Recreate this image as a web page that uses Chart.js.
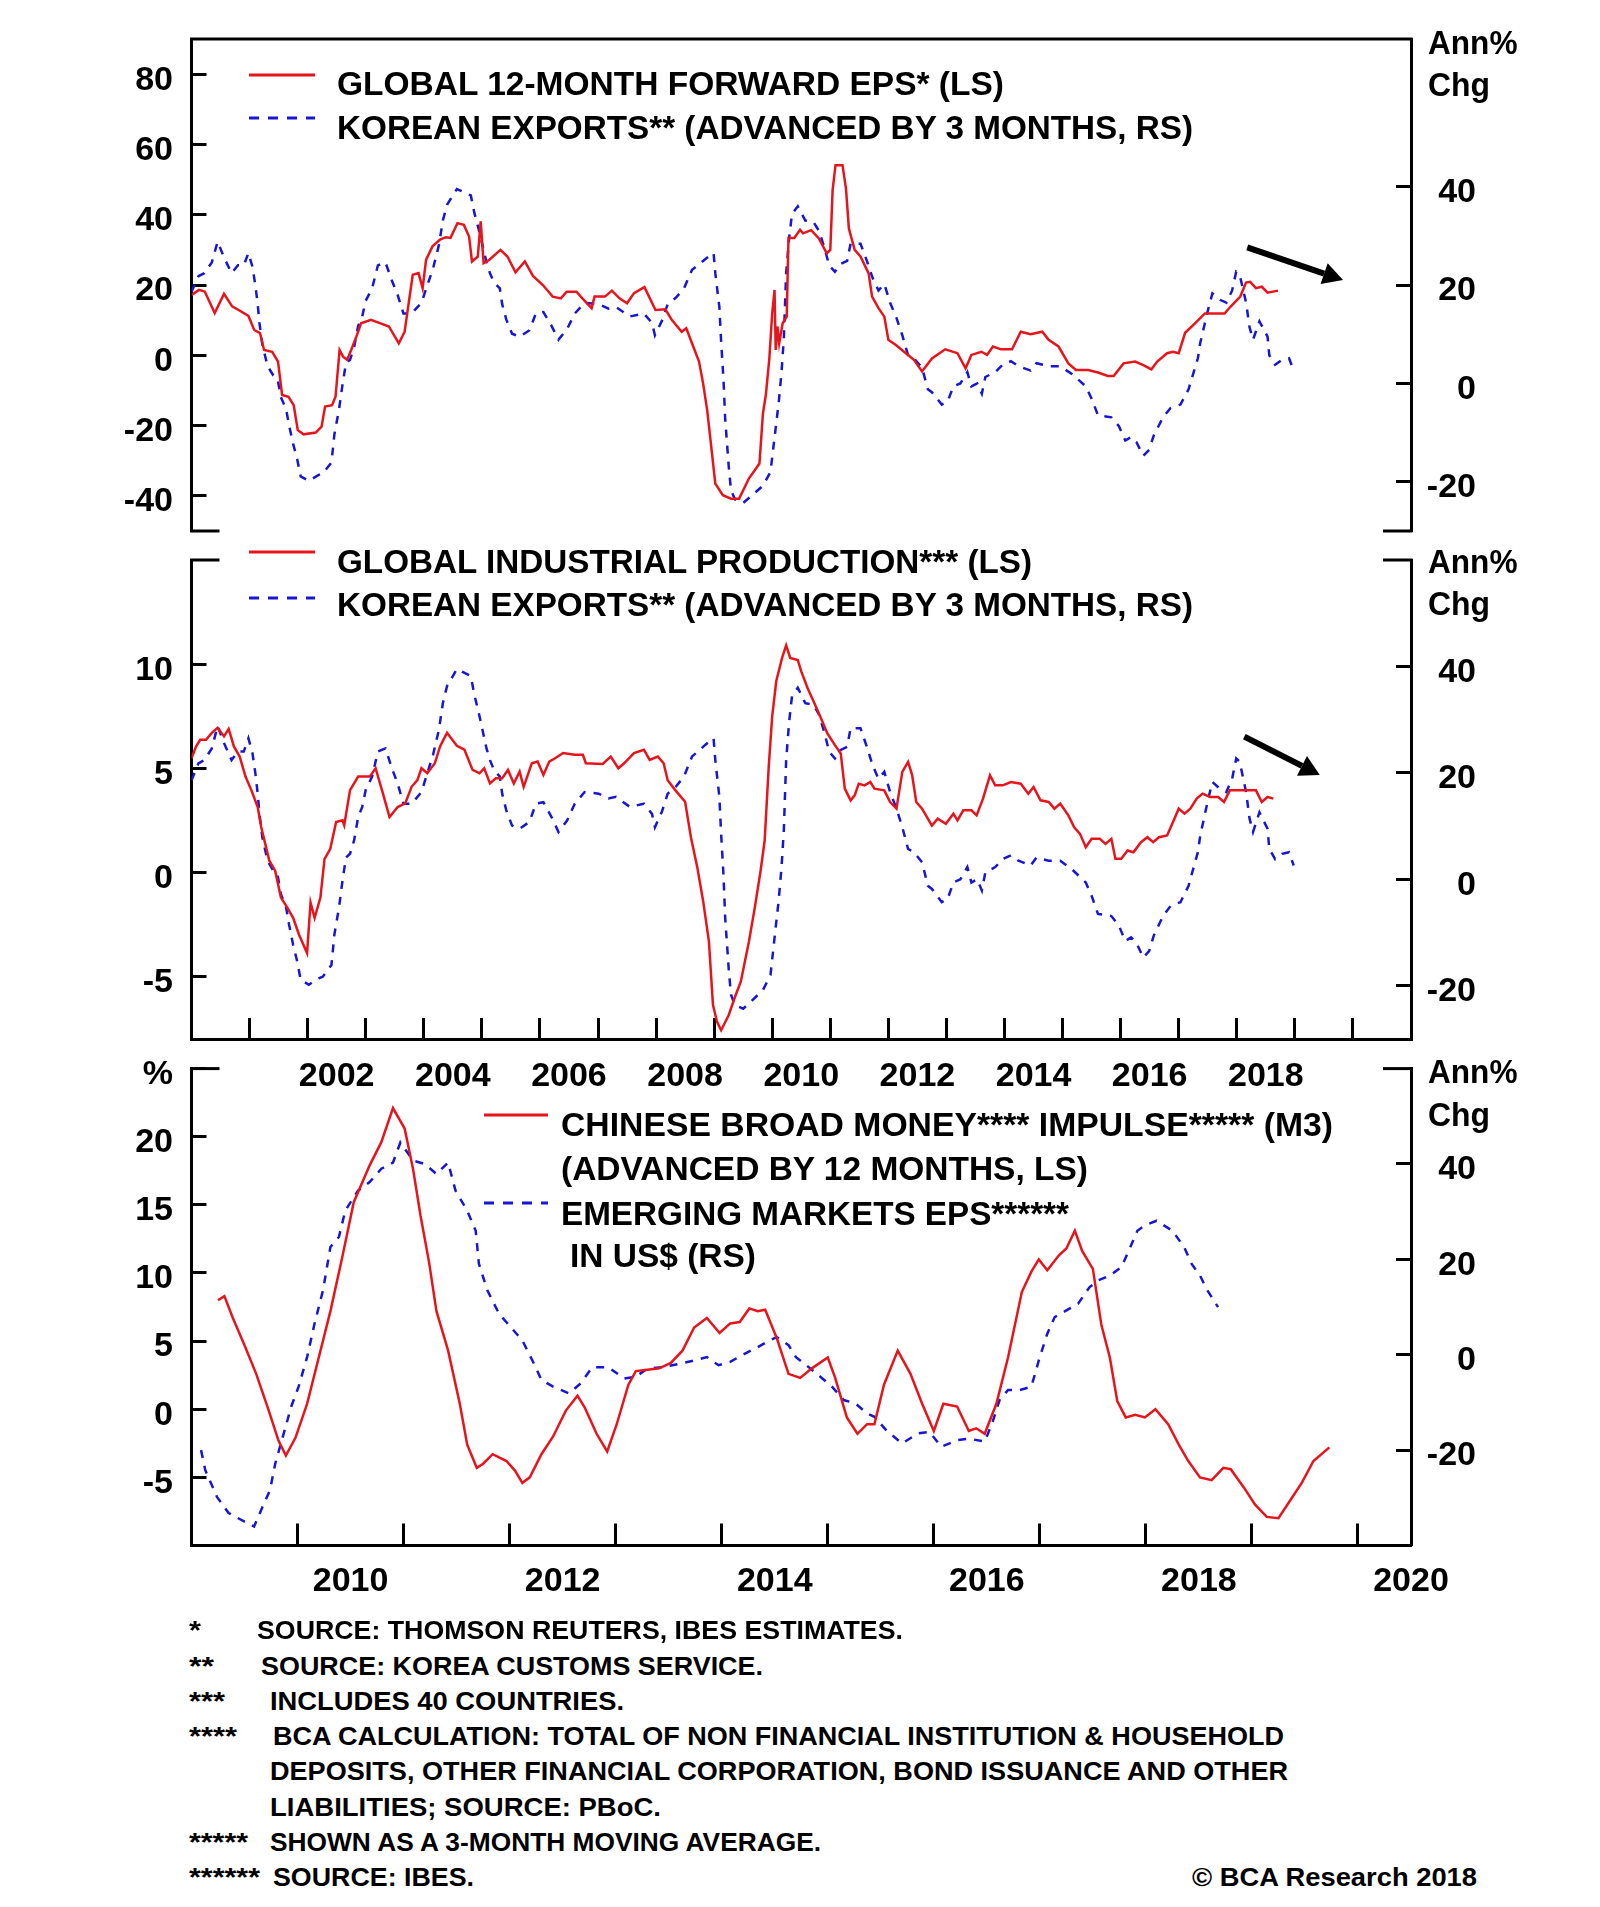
<!DOCTYPE html>
<html><head><meta charset="utf-8">
<script src="https://cdn.jsdelivr.net/npm/chart.js@4.4.1/dist/chart.umd.min.js"></script>
<style>
html,body{margin:0;padding:0;background:#fff;}
#page{position:relative;width:1600px;height:1907px;overflow:hidden;background:#fff;}
#page canvas{position:absolute;left:0;}
.t{position:absolute;white-space:pre;font-family:'Liberation Sans Narrow','Liberation Sans','Arial Narrow',Arial,sans-serif;font-weight:bold;color:#000;line-height:1;transform-origin:0 50%;}
.s{position:absolute;}
</style></head>
<body><div id="page">
<canvas id="c1" width="1600" height="570" style="top:0px;width:1600px;height:570px"></canvas>
<canvas id="c2" width="1600" height="590" style="top:520px;width:1600px;height:590px"></canvas>
<canvas id="c3" width="1600" height="590" style="top:1028px;width:1600px;height:590px"></canvas>
</div>
<script>
// ---------------- DATA (decimal year, value) ----------------
const globalEps = [[2000.00,17.2],[2000.13,18.6],[2000.23,18.1],[2000.40,12.0],[2000.56,17.5],[2000.70,13.9],[2000.84,12.6],[2000.98,11.2],[2001.08,7.2],[2001.18,6.3],[2001.25,1.5],[2001.39,1.0],[2001.49,-1.8],[2001.56,-11.3],[2001.67,-11.8],[2001.76,-14.2],[2001.83,-21.3],[2001.93,-22.5],[2002.14,-22.0],[2002.24,-20.3],[2002.30,-14.6],[2002.42,-14.2],[2002.48,-11.8],[2002.55,1.5],[2002.61,-0.4],[2002.68,-1.3],[2002.75,1.5],[2002.85,5.8],[2002.92,9.1],[2003.09,10.1],[2003.22,9.3],[2003.40,8.2],[2003.57,3.4],[2003.67,6.7],[2003.81,22.9],[2003.91,23.4],[2003.98,19.1],[2004.04,27.2],[2004.15,31.0],[2004.28,32.9],[2004.38,33.6],[2004.46,33.4],[2004.58,37.6],[2004.69,37.1],[2004.78,33.8],[2004.83,26.7],[2004.93,28.1],[2004.98,38.1],[2005.03,26.2],[2005.13,27.2],[2005.32,30.0],[2005.44,28.1],[2005.58,23.6],[2005.74,26.7],[2005.88,22.6],[2006.05,20.0],[2006.22,16.7],[2006.36,16.2],[2006.46,18.1],[2006.63,18.1],[2006.73,16.2],[2006.89,13.4],[2006.94,16.7],[2007.12,16.7],[2007.24,18.4],[2007.37,16.2],[2007.50,14.8],[2007.62,17.7],[2007.80,19.4],[2007.99,12.9],[2008.16,13.1],[2008.27,10.1],[2008.44,6.7],[2008.52,7.7],[2008.64,2.5],[2008.74,-1.8],[2008.81,-8.0],[2008.88,-15.6],[2008.95,-26.0],[2009.02,-36.5],[2009.15,-39.8],[2009.29,-40.8],[2009.43,-40.8],[2009.53,-37.4],[2009.60,-35.0],[2009.70,-32.7],[2009.78,-30.8],[2009.84,-16.6],[2009.89,-11.3],[2009.95,-1.0],[2010.00,12.0],[2010.04,18.6],[2010.06,1.5],[2010.09,8.2],[2010.12,3.4],[2010.18,9.1],[2010.25,11.0],[2010.28,33.4],[2010.38,33.4],[2010.48,35.7],[2010.53,34.7],[2010.67,35.6],[2010.80,33.3],[2010.94,29.0],[2011.00,30.0],[2011.04,47.0],[2011.09,54.1],[2011.21,54.1],[2011.27,47.5],[2011.32,36.1],[2011.42,30.0],[2011.52,28.1],[2011.66,23.3],[2011.72,16.7],[2011.83,13.4],[2011.93,11.0],[2012.00,4.4],[2012.13,2.9],[2012.27,1.0],[2012.44,-1.3],[2012.58,-4.6],[2012.75,-0.9],[2012.98,1.7],[2013.19,0.6],[2013.33,-3.7],[2013.43,0.1],[2013.60,1.0],[2013.70,0.1],[2013.80,2.5],[2013.94,1.7],[2014.13,1.7],[2014.28,6.7],[2014.45,6.0],[2014.65,6.7],[2014.76,4.4],[2014.93,2.5],[2015.10,-2.3],[2015.23,-4.2],[2015.44,-4.2],[2015.61,-4.9],[2015.78,-5.9],[2015.88,-5.9],[2016.05,-2.3],[2016.25,-1.8],[2016.39,-2.8],[2016.53,-4.0],[2016.63,-1.8],[2016.80,0.6],[2016.90,1.0],[2017.00,0.6],[2017.11,6.4],[2017.28,9.1],[2017.45,11.9],[2017.62,11.9],[2017.79,11.9],[2017.89,13.8],[2018.06,16.7],[2018.16,20.7],[2018.23,20.9],[2018.33,19.1],[2018.43,19.5],[2018.53,17.8],[2018.71,18.4]];

const koreanExports = [[2000.00,18.6],[2000.12,21.8],[2000.22,22.4],[2000.35,24.6],[2000.45,28.8],[2000.56,25.6],[2000.69,22.4],[2000.80,24.0],[2000.90,24.0],[2000.98,26.5],[2001.05,23.7],[2001.10,19.9],[2001.14,16.1],[2001.17,12.3],[2001.22,7.9],[2001.31,3.5],[2001.41,1.6],[2001.48,1.0],[2001.54,-2.8],[2001.63,-5.3],[2001.68,-8.5],[2001.75,-12.3],[2001.82,-15.4],[2001.88,-18.9],[2002.02,-19.8],[2002.19,-18.6],[2002.26,-18.3],[2002.41,-16.1],[2002.46,-10.4],[2002.54,-5.3],[2002.60,-0.3],[2002.66,4.1],[2002.73,4.8],[2002.80,7.3],[2002.87,11.7],[2002.94,13.6],[2003.00,16.8],[2003.11,19.3],[2003.21,24.0],[2003.34,24.6],[2003.45,20.9],[2003.55,18.0],[2003.65,14.2],[2003.79,14.2],[2003.96,16.4],[2004.06,19.9],[2004.16,23.4],[2004.26,28.1],[2004.33,33.2],[2004.40,36.3],[2004.57,39.5],[2004.81,38.2],[2004.87,34.7],[2004.94,31.6],[2005.01,28.1],[2005.08,24.6],[2005.14,22.4],[2005.21,20.5],[2005.31,19.3],[2005.35,16.1],[2005.42,13.0],[2005.52,10.1],[2005.65,9.5],[2005.82,10.8],[2005.93,14.2],[2006.06,14.5],[2006.20,11.7],[2006.32,8.9],[2006.47,11.1],[2006.60,14.2],[2006.77,16.4],[2007.01,16.1],[2007.18,15.2],[2007.31,15.5],[2007.55,13.6],[2007.79,14.2],[2007.93,12.3],[2007.98,9.8],[2008.10,12.7],[2008.20,16.1],[2008.34,17.4],[2008.48,19.3],[2008.62,23.1],[2008.72,24.0],[2008.85,25.3],[2008.99,26.5],[2009.02,22.4],[2009.09,15.5],[2009.12,8.6],[2009.16,1.0],[2009.19,-7.2],[2009.25,-16.7],[2009.29,-21.7],[2009.36,-23.6],[2009.50,-24.3],[2009.63,-23.0],[2009.84,-20.8],[2009.97,-18.0],[2010.04,-11.0],[2010.11,-4.1],[2010.16,2.2],[2010.20,9.2],[2010.24,22.4],[2010.29,29.4],[2010.34,34.4],[2010.44,36.0],[2010.57,33.1],[2010.71,32.8],[2010.81,30.9],[2010.91,27.1],[2010.98,24.0],[2011.08,22.7],[2011.18,24.3],[2011.29,24.9],[2011.35,28.4],[2011.52,28.4],[2011.63,24.9],[2011.73,21.4],[2011.83,18.9],[2011.93,20.2],[2012.03,16.4],[2012.14,13.3],[2012.24,9.8],[2012.34,5.7],[2012.44,5.1],[2012.58,3.2],[2012.68,-1.2],[2012.75,-1.8],[2012.92,-4.3],[2013.02,-3.7],[2013.12,-0.6],[2013.24,0.0],[2013.36,2.3],[2013.43,-0.6],[2013.53,0.0],[2013.61,-2.1],[2013.67,1.3],[2013.84,2.3],[2013.97,3.8],[2014.11,4.5],[2014.24,3.5],[2014.45,2.6],[2014.55,4.1],[2014.76,3.5],[2014.96,3.5],[2015.16,1.9],[2015.40,-0.6],[2015.50,-3.1],[2015.61,-6.5],[2015.84,-6.9],[2015.97,-8.7],[2016.08,-11.6],[2016.18,-10.9],[2016.27,-11.9],[2016.39,-14.7],[2016.49,-13.5],[2016.57,-10.6],[2016.73,-6.9],[2016.86,-5.0],[2017.03,-4.3],[2017.17,-1.2],[2017.24,1.6],[2017.33,5.1],[2017.37,8.2],[2017.44,11.7],[2017.51,15.2],[2017.58,18.3],[2017.71,17.0],[2017.82,16.4],[2017.92,18.9],[2017.99,22.7],[2018.05,22.1],[2018.16,16.4],[2018.22,11.4],[2018.28,8.9],[2018.39,12.6],[2018.53,9.5],[2018.56,5.7],[2018.66,3.8],[2018.78,4.8],[2018.90,5.1],[2018.98,2.6]];

const globalIP = [[2000.00,5.48],[2000.08,6.05],[2000.15,6.37],[2000.25,6.37],[2000.35,6.7],[2000.45,6.94],[2000.56,6.53],[2000.64,6.89],[2000.73,6.05],[2000.83,5.56],[2000.93,4.6],[2001.03,3.95],[2001.14,3.14],[2001.20,2.18],[2001.27,1.37],[2001.34,0.56],[2001.44,0.08],[2001.54,-1.21],[2001.65,-1.69],[2001.75,-2.18],[2001.85,-2.98],[2001.99,-3.87],[2002.05,-1.45],[2002.12,-2.18],[2002.22,-1.21],[2002.29,0.64],[2002.39,1.13],[2002.49,2.42],[2002.60,2.5],[2002.63,2.26],[2002.73,3.95],[2002.87,4.6],[2003.07,4.6],[2003.17,5.0],[2003.28,3.95],[2003.41,2.66],[2003.55,3.14],[2003.68,3.31],[2003.79,4.11],[2003.89,4.43],[2003.96,5.0],[2004.06,4.76],[2004.19,5.24],[2004.28,6.05],[2004.40,6.7],[2004.57,6.08],[2004.70,5.89],[2004.84,4.92],[2004.96,4.76],[2005.04,5.0],[2005.14,4.27],[2005.24,4.52],[2005.35,4.52],[2005.45,4.92],[2005.55,4.27],[2005.65,4.84],[2005.72,4.11],[2005.86,5.24],[2005.96,5.32],[2006.06,4.68],[2006.16,5.32],[2006.26,5.48],[2006.40,5.73],[2006.60,5.65],[2006.74,5.65],[2006.79,5.24],[2007.08,5.21],[2007.22,5.56],[2007.35,5.0],[2007.45,5.24],[2007.62,5.73],[2007.79,5.89],[2007.89,5.4],[2008.03,5.56],[2008.13,5.24],[2008.20,4.43],[2008.33,3.95],[2008.50,3.39],[2008.60,1.69],[2008.71,0.24],[2008.81,-1.37],[2008.91,-3.31],[2008.98,-6.37],[2009.05,-7.18],[2009.12,-7.58],[2009.25,-6.86],[2009.36,-5.97],[2009.46,-5.24],[2009.60,-3.31],[2009.70,-1.69],[2009.80,0.08],[2009.87,1.53],[2009.94,5.08],[2010.00,7.5],[2010.07,9.19],[2010.17,10.3],[2010.24,10.9],[2010.31,10.3],[2010.44,10.2],[2010.50,9.65],[2010.61,8.84],[2010.74,8.04],[2010.84,7.4],[2010.95,6.67],[2011.08,6.11],[2011.18,5.71],[2011.25,4.02],[2011.35,3.46],[2011.42,3.7],[2011.49,4.26],[2011.59,4.18],[2011.69,4.34],[2011.76,4.02],[2011.93,3.94],[2012.03,3.38],[2012.14,3.06],[2012.24,4.83],[2012.34,5.31],[2012.41,4.66],[2012.48,3.38],[2012.58,3.06],[2012.68,2.58],[2012.75,2.25],[2012.85,2.58],[2012.99,2.33],[2013.12,2.82],[2013.19,2.5],[2013.29,2.98],[2013.43,2.98],[2013.52,2.74],[2013.63,3.54],[2013.75,4.66],[2013.84,4.18],[2013.97,4.18],[2014.11,4.34],[2014.28,4.26],[2014.41,3.78],[2014.50,4.1],[2014.62,3.46],[2014.76,3.38],[2014.86,3.06],[2014.96,3.3],[2015.10,2.74],[2015.20,2.17],[2015.30,1.85],[2015.40,1.21],[2015.50,1.61],[2015.64,1.61],[2015.74,1.37],[2015.84,1.61],[2015.91,0.65],[2016.01,0.65],[2016.12,1.05],[2016.22,0.97],[2016.35,1.45],[2016.46,1.69],[2016.56,1.45],[2016.66,1.69],[2016.80,1.77],[2016.90,2.41],[2017.00,3.06],[2017.10,2.82],[2017.20,3.06],[2017.31,3.54],[2017.41,3.78],[2017.54,3.62],[2017.68,3.62],[2017.78,3.38],[2017.88,3.94],[2018.05,3.94],[2018.16,3.94],[2018.33,3.94],[2018.43,3.38],[2018.53,3.62],[2018.63,3.54]];

const chinaM3Impulse = [[2009.25,8.0],[2009.31,8.3],[2009.39,6.7],[2009.50,4.7],[2009.61,2.6],[2009.72,0.1],[2009.82,-2.3],[2009.89,-3.4],[2009.98,-2.1],[2010.09,0.4],[2010.20,3.8],[2010.31,7.2],[2010.42,11.1],[2010.53,15.2],[2010.68,17.9],[2010.79,19.6],[2010.90,22.1],[2011.01,20.6],[2011.09,17.6],[2011.16,14.2],[2011.24,10.8],[2011.31,7.2],[2011.42,4.3],[2011.53,0.4],[2011.60,-2.6],[2011.69,-4.3],[2011.75,-4.0],[2011.84,-3.3],[2011.97,-3.8],[2012.05,-4.5],[2012.12,-5.4],[2012.19,-5.0],[2012.30,-3.3],[2012.41,-2.0],[2012.53,-0.1],[2012.64,1.0],[2012.71,0.1],[2012.82,-1.8],[2012.92,-3.1],[2013.01,-1.1],[2013.12,1.8],[2013.19,2.8],[2013.30,2.9],[2013.41,3.0],[2013.52,3.4],[2013.63,4.3],[2013.74,6.0],[2013.86,6.7],[2013.98,5.6],[2014.08,6.3],[2014.17,6.4],[2014.26,7.4],[2014.34,7.2],[2014.41,7.3],[2014.52,5.2],[2014.63,2.6],[2014.74,2.3],[2014.85,3.0],[2015.00,3.8],[2015.07,2.3],[2015.18,-0.6],[2015.28,-1.8],[2015.37,-1.1],[2015.44,-1.1],[2015.53,1.8],[2015.66,4.3],[2015.78,2.6],[2015.89,0.4],[2016.00,-1.6],[2016.09,0.4],[2016.22,0.2],[2016.33,-1.6],[2016.40,-1.4],[2016.48,-1.8],[2016.59,0.4],[2016.70,3.8],[2016.83,8.6],[2016.92,10.1],[2016.99,11.0],[2017.07,10.2],[2017.18,11.3],[2017.25,11.8],[2017.33,13.1],[2017.40,11.6],[2017.50,10.3],[2017.58,6.2],[2017.66,3.8],[2017.73,0.6],[2017.81,-0.6],[2017.90,-0.4],[2017.99,-0.6],[2018.09,0.0],[2018.21,-1.1],[2018.31,-2.6],[2018.40,-3.8],[2018.51,-5.0],[2018.62,-5.2],[2018.73,-4.3],[2018.80,-4.4],[2018.92,-5.7],[2019.03,-7.0],[2019.14,-7.9],[2019.25,-8.0],[2019.36,-6.7],[2019.47,-5.4],[2019.58,-3.8],[2019.73,-2.8]];

const emEps = [[2009.09,-20.0],[2009.13,-24.2],[2009.24,-29.8],[2009.35,-33.2],[2009.50,-35.0],[2009.59,-36.0],[2009.67,-31.9],[2009.74,-28.4],[2009.79,-22.8],[2009.87,-16.5],[2009.94,-10.9],[2010.01,-6.7],[2010.09,-0.5],[2010.16,6.5],[2010.24,13.5],[2010.31,22.6],[2010.39,24.7],[2010.45,30.2],[2010.57,34.4],[2010.68,36.2],[2010.79,39.0],[2010.90,40.3],[2010.97,44.5],[2011.09,40.7],[2011.20,40.0],[2011.31,37.9],[2011.42,40.3],[2011.49,34.4],[2011.60,30.2],[2011.68,26.0],[2011.71,19.1],[2011.79,13.5],[2011.90,8.6],[2012.01,5.8],[2012.12,3.0],[2012.23,-1.9],[2012.30,-5.3],[2012.41,-6.7],[2012.56,-8.1],[2012.67,-6.0],[2012.78,-2.6],[2012.93,-2.6],[2013.08,-5.0],[2013.19,-4.6],[2013.30,-2.9],[2013.45,-2.6],[2013.60,-1.9],[2013.74,-1.2],[2013.86,-0.5],[2013.97,-2.2],[2014.08,-1.5],[2014.19,-0.1],[2014.34,1.6],[2014.45,3.0],[2014.52,3.7],[2014.63,2.0],[2014.70,-0.5],[2014.82,-2.6],[2014.93,-4.6],[2015.04,-6.7],[2015.15,-9.5],[2015.26,-10.2],[2015.37,-12.3],[2015.44,-13.0],[2015.55,-15.8],[2015.70,-18.6],[2015.85,-16.5],[2015.96,-16.2],[2016.07,-19.3],[2016.22,-17.9],[2016.33,-17.6],[2016.48,-18.2],[2016.55,-14.4],[2016.62,-9.5],[2016.70,-7.4],[2016.81,-7.4],[2016.92,-6.7],[2016.99,-1.2],[2017.07,4.4],[2017.14,7.9],[2017.25,9.3],[2017.36,10.7],[2017.47,14.2],[2017.55,15.6],[2017.66,16.6],[2017.77,18.4],[2017.84,21.9],[2017.92,26.0],[2017.99,27.1],[2018.10,28.1],[2018.25,26.0],[2018.36,22.6],[2018.43,19.1],[2018.51,16.6],[2018.58,13.5],[2018.68,10.0]];

// tick labels
const p1LeftTicks = [-40,-20,0,20,40,60,80];
const p2LeftTicks = [-5,0,5,10];
const p3LeftTicks = [-5,0,5,10,15,20,25];
const rightTicks = [-20,0,20,40];
const p2YearLabels = [2002,2004,2006,2008,2010,2012,2014,2016,2018];
const p3YearLabels = [2010,2012,2014,2016,2018,2020];
// trend arrows (from / to, in data units of the left axis)
const arrowP1 = [[2018.18,30.7],[2019.83,21.4]];
const arrowP2 = [[2018.13,6.52],[2019.43,4.68]];

const legendP1 = ['GLOBAL 12-MONTH FORWARD EPS* (LS)','KOREAN EXPORTS** (ADVANCED BY 3 MONTHS, RS)'];
const legendP2 = ['GLOBAL INDUSTRIAL PRODUCTION*** (LS)','KOREAN EXPORTS** (ADVANCED BY 3 MONTHS, RS)'];
const legendP3 = ['CHINESE BROAD MONEY**** IMPULSE***** (M3)','(ADVANCED BY 12 MONTHS, LS)','EMERGING MARKETS EPS******','IN US$ (RS)'];
const footMarks = ['*','**','***','****','','','*****','******'];
const footTexts = ['SOURCE: THOMSON REUTERS, IBES ESTIMATES.','SOURCE: KOREA CUSTOMS SERVICE.','INCLUDES 40 COUNTRIES.','BCA CALCULATION: TOTAL OF NON FINANCIAL INSTITUTION & HOUSEHOLD','DEPOSITS, OTHER FINANCIAL CORPORATION, BOND ISSUANCE AND OTHER','LIABILITIES; SOURCE: PBoC.','SHOWN AS A 3-MONTH MOVING AVERAGE.','SOURCE: IBES.'];

// ---------------- STYLE ----------------
const RED = '#e8141c', BLUE = '#1616d4', BLACK = '#000';
const TICK_FONT = {family: "'Liberation Sans', Arial, sans-serif", size: 34, weight: 'bold'};
const toXY = a => a.map(p => ({x: p[0], y: p[1]}));
const noPad = s => { s.paddingTop = 0; s.paddingBottom = 0; s.paddingLeft = 0; s.paddingRight = 0; };

function yAxis(pos, min, max, vals, cb) {
  return {
    type: 'linear', position: pos, min, max,
    afterBuildTicks: s => { s.ticks = vals.map(v => ({value: v})); },
    afterFit: s => { s.width = pos === 'left' ? 191.5 : 65; noPad(s); },
    border: {display: true, color: BLACK, width: 3},
    grid: {drawOnChartArea: false, drawTicks: true, tickLength: -15, tickWidth: 3, tickColor: BLACK},
    ticks: {color: BLACK, font: TICK_FONT, autoSkip: false, padding: pos === 'left' ? 33.5 : 29, labelOffset: 6,
            crossAlign: pos === 'left' ? 'near' : 'far', callback: cb || (v => String(v))}
  };
}
function xAxis(min, max, labels, show, pad, tl) {
  return {
    type: 'linear', position: 'bottom', min, max, display: show,
    afterBuildTicks: s => { const t = []; for (let v = min; v <= max + 1e-9; v += 0.5) t.push({value: v}); s.ticks = t; },
    afterFit: s => { if (show) s.height = 60; noPad(s); },
    border: {display: true, color: BLACK, width: 3},
    grid: {drawOnChartArea: false, drawTicks: true, tickLength: -tl, tickWidth: 3,
           tickColor: c => (c.tick && c.tick.value % 1 === 0) ? BLACK : 'rgba(0,0,0,0)'},
    ticks: {autoSkip: false, maxRotation: 0, minRotation: 0, padding: pad, color: BLACK, font: TICK_FONT,
            callback: v => (Math.abs(v % 1 - 0.5) < 1e-6 && labels.includes(Math.floor(v))) ? String(Math.floor(v)) : ''}
  };
}
const framePlugin = {
  id: 'frame',
  afterDraw(chart, args, o) {
    const {ctx, chartArea: a} = chart;
    ctx.save();
    ctx.strokeStyle = BLACK; ctx.lineWidth = 3; ctx.lineCap = 'butt';
    const ln = (x1, y1, x2, y2) => { ctx.beginPath(); ctx.moveTo(x1, y1); ctx.lineTo(x2, y2); ctx.stroke(); };
    const st = 28;
    if (o.topLine) ln(a.left - 1.5, a.top, a.right + 1.5, a.top);
    if (o.topStubs) { ln(a.left - 1.5, a.top, a.left + st, a.top); ln(a.right - st, a.top, a.right + 1.5, a.top); }
    if (o.bottomStubs) { ln(a.left - 1.5, a.bottom, a.left + st, a.bottom); ln(a.right - st, a.bottom, a.right + 1.5, a.bottom); }
    if (o.arrow) {
      const xs = chart.scales.x, ys = chart.scales.yL;
      const x0 = xs.getPixelForValue(o.arrow[0][0]), y0 = ys.getPixelForValue(o.arrow[0][1]);
      const x1 = xs.getPixelForValue(o.arrow[1][0]), y1 = ys.getPixelForValue(o.arrow[1][1]);
      const ang = Math.atan2(y1 - y0, x1 - x0), hl = 20, hw = 11;
      const bx = x1 - hl * Math.cos(ang), by = y1 - hl * Math.sin(ang);
      ctx.lineWidth = 6; ln(x0, y0, bx, by);
      ctx.fillStyle = BLACK; ctx.beginPath();
      ctx.moveTo(x1, y1);
      ctx.lineTo(bx + hw * Math.sin(ang), by - hw * Math.cos(ang));
      ctx.lineTo(bx - hw * Math.sin(ang), by + hw * Math.cos(ang));
      ctx.closePath(); ctx.fill();
    }
    ctx.restore();
  }
};
function ds(label, data, axis, color, dashed) {
  return {label, data: toXY(data), yAxisID: axis, borderColor: color, backgroundColor: color,
          borderWidth: 2.5, borderDash: dashed ? [8, 8] : [], pointRadius: 0, tension: 0, fill: false};
}
function panel(id, datasets, scales, pad, frame) {
  return new Chart(document.getElementById(id), {
    type: 'line', data: {datasets},
    options: {responsive: false, maintainAspectRatio: false, animation: false, devicePixelRatio: 1,
      layout: {padding: {top: pad[0], bottom: pad[1], left: 0, right: 124}},
      scales,
      plugins: {legend: {display: false}, tooltip: {enabled: false}, frame}},
    plugins: [framePlugin]
  });
}

panel('c1', [ds(legendP1[0], globalEps, 'yL', RED, false), ds(legendP1[1], koreanExports, 'yR', BLUE, true)],
  {x: xAxis(2000, 2021, [], false, 36, 21), yL: yAxis('left', -50, 90, p1LeftTicks), yR: yAxis('right', -30, 70, rightTicks)},
  [39, 39], {topLine: true, bottomStubs: true, arrow: arrowP1});

panel('c2', [ds(legendP2[0], globalIP, 'yL', RED, false), ds(legendP2[1], koreanExports, 'yR', BLUE, true)],
  {x: xAxis(2000, 2021, p2YearLabels, true, 38.5, 21), yL: yAxis('left', -8, 15, p2LeftTicks), yR: yAxis('right', -30, 60, rightTicks)},
  [40, 11], {topStubs: true, arrow: arrowP2});

panel('c3', [ds(legendP3[0], chinaM3Impulse, 'yL', RED, false), ds(legendP3[2], emEps, 'yR', BLUE, true)],
  {x: xAxis(2009, 2020.5, p3YearLabels, true, 37.5, 22), yL: yAxis('left', -10, 25, p3LeftTicks, v => v === 25 ? '%' : String(v)), yR: yAxis('right', -40, 60, rightTicks)},
  [40.6, 12.5], {topStubs: true});

// ---------------- TEXT OVERLAYS ----------------
const page = document.getElementById('page');
function addText(str, x, cy, size, w) {
  const el = document.createElement('div');
  el.className = 't'; el.textContent = str;
  el.style.fontSize = size + 'px'; el.style.left = x + 'px'; el.style.top = (cy - 0.49 * size) + 'px';
  page.appendChild(el);
  if (w) { const r = el.getBoundingClientRect().width; if (r > 0) el.style.transform = 'scaleX(' + (w / r).toFixed(4) + ')'; }
  return el;
}
function sample(x, y, w, color, dashed) {
  const ns = 'http://www.w3.org/2000/svg';
  const svg = document.createElementNS(ns, 'svg');
  svg.setAttribute('width', w); svg.setAttribute('height', 6); svg.setAttribute('class', 's');
  svg.style.left = x + 'px'; svg.style.top = (y - 3) + 'px';
  const l = document.createElementNS(ns, 'line');
  l.setAttribute('x1', 0); l.setAttribute('x2', w); l.setAttribute('y1', 3); l.setAttribute('y2', 3);
  l.setAttribute('stroke', color); l.setAttribute('stroke-width', 3);
  if (dashed) l.setAttribute('stroke-dasharray', '10 9');
  svg.appendChild(l); page.appendChild(svg);
}
// panel 1 legend
sample(249, 74.5, 66, RED, false); sample(249, 118, 66, BLUE, true);
addText(legendP1[0], 337, 83, 33, 667); addText(legendP1[1], 337, 127, 33, 856);
// panel 2 legend
sample(249, 551.5, 66, RED, false); sample(249, 598, 66, BLUE, true);
addText(legendP2[0], 337, 561, 33, 695); addText(legendP2[1], 337, 604, 33, 856);
// panel 3 legend
sample(484, 1115, 64, RED, false); sample(484, 1203, 64, BLUE, true);
addText(legendP3[0], 561, 1124, 33, 772); addText(legendP3[1], 561, 1168.5, 33, 527);
addText(legendP3[2], 561, 1213, 33, 508); addText(legendP3[3], 570, 1255, 33, 186);
// right axis titles
[[42, 84], [561, 603], [1071, 1114]].forEach(p => { addText('Ann%', 1427.5, p[0], 33, 89.5); addText('Chg', 1427.5, p[1], 33, 62); });
// footnotes
const footX = [257, 261, 270, 273, 270, 270, 270, 273];
const footW = [646, 502, 354, 1011, 1018, 391, 551, 201];
const markW = [12, 25, 36, 48, 0, 0, 59, 71];
footTexts.forEach((s, i) => {
  const cy = 1630 + 35.3 * i;
  if (footMarks[i]) addText(footMarks[i], 189, cy, 26, markW[i]);
  addText(s, footX[i], cy, 26, footW[i]);
});
addText('\u00A9 BCA Research 2018', 1192, 1877, 26, 285);
</script></body></html>
